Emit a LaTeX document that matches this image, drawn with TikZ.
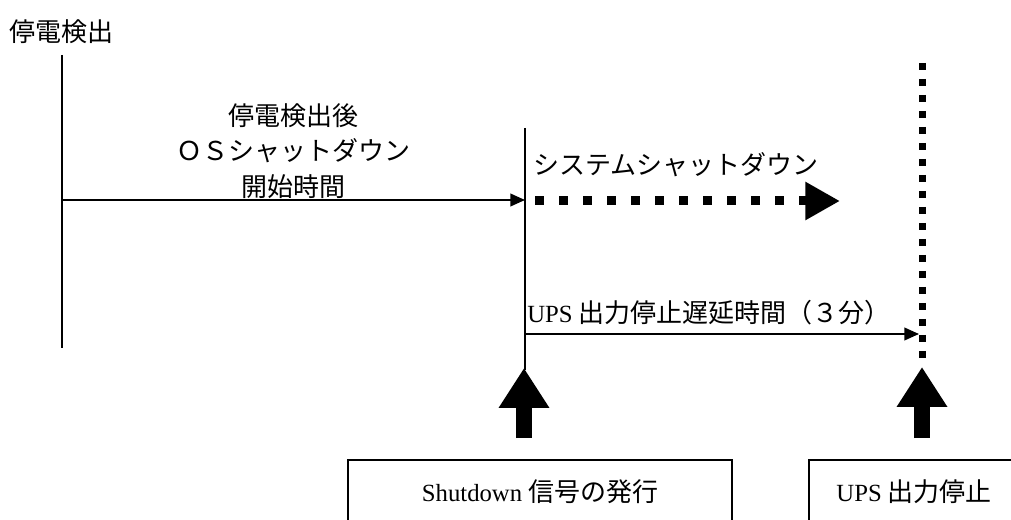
\documentclass[tikz,border=0pt]{standalone}
\usepackage{fontspec}
\setmainfont{Liberation Serif}
\newfontfamily\jp{Noto Sans CJK JP}
\newfontfamily\lat[Scale=0.95]{Liberation Serif}
\usetikzlibrary{arrows.meta}
\begin{document}
\begin{tikzpicture}[x=0.75pt,y=-0.75pt,
  txt/.style={font=\fontsize{19.5}{26.5}\selectfont\jp, inner sep=0pt},
  thin/.style={line width=1.4pt},
  thinarrow/.style={thin, -{Triangle[length=11pt,width=9.5pt]}},
  sqdash/.style={line width=6.75pt, dash pattern=on 6.75pt off 11.25pt},
  sqdashv/.style={line width=5.25pt, dash pattern=on 5.25pt off 6.75pt},
  blockarrow/.style={line width=12pt, -{Triangle[length=30pt,width=36pt]}},
  box/.style={draw, thin, minimum height=48pt, inner sep=0pt}]
\clip (0,0) rectangle (1011,520);
\fill[white] (0,0) rectangle (1011,520);

% labels
\node[txt, anchor=west] (title) at (9,32) {停電検出};
\node[txt, align=center] (ostext) at (293,151) {停電検出後\\ＯＳシャットダウン\\開始時間};
\node[txt, anchor=west] (systext) at (533,165) {システムシャットダウン};
\node[txt, anchor=west] (upstext) at (527,313) {{\lat UPS} 出力停止遅延時間（３分）};

% coordinates
\coordinate (l1top) at (62,55);
\coordinate (l1bot) at (62,348);
\coordinate (a1s) at (62,200);
\coordinate (l2top) at (525,128);
\coordinate (l2bot) at (525,370);
\coordinate (a1e) at (525,200);
\coordinate (a2s) at (525,334);
\coordinate (a2e) at (919,334);
\coordinate (dls) at (922,63);
\coordinate (dle) at (922,363);
\coordinate (das) at (535,201);
\coordinate (dae) at (840,201);

% lines
\draw[thin] (l1top) -- (l1bot);
\draw[thin] (l2top) -- (l2bot);
\draw[thinarrow] (a1s) -- (a1e);
\draw[thinarrow] (a2s) -- (a2e);
\draw[sqdashv] (dls) -- (dle);
\draw[sqdash, -{Triangle[length=26pt,width=27pt]}] (das) -- (dae);

% boxes
\node[box, txt, draw, minimum width=288pt, minimum height=48pt] (box1) at (540,492) {{\lat Shutdown} 信号の発行};
\node[box, txt, draw, minimum width=158pt, minimum height=48pt] (box2) at (914,492) {{\lat UPS} 出力停止};

% block arrows
\coordinate (b1s) at (524,438);
\coordinate (b1e) at (524,368);
\coordinate (b2s) at (922,438);
\coordinate (b2e) at (922,367);
\draw[blockarrow] (b1s) -- (b1e);
\draw[blockarrow] (b2s) -- (b2e);
\end{tikzpicture}
\end{document}
